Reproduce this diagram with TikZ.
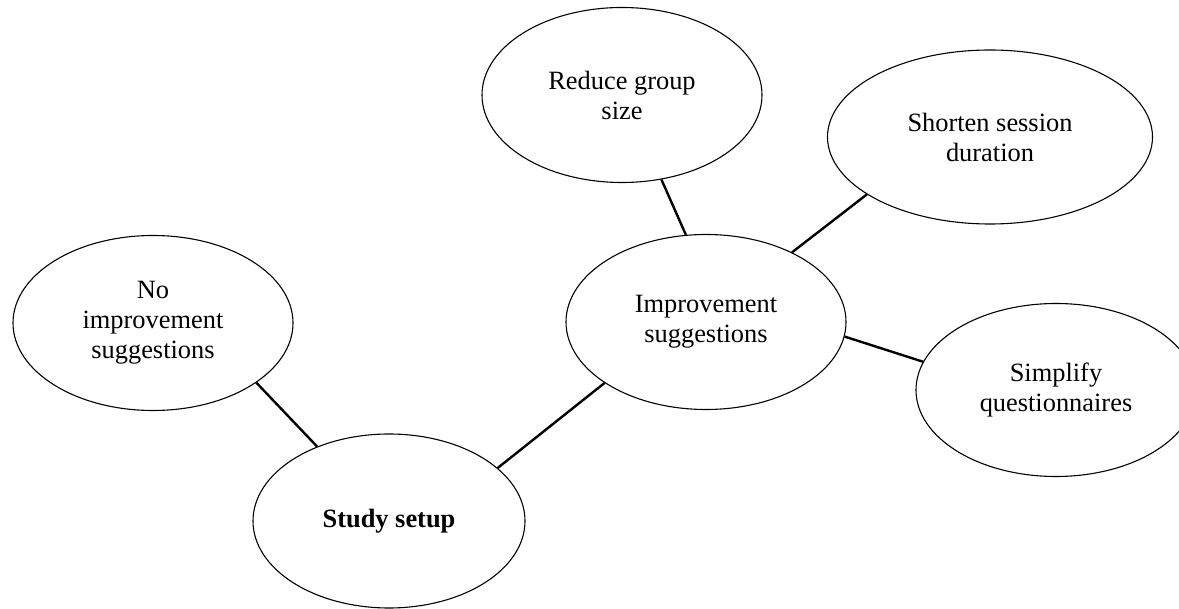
\documentclass[tikz,border=0pt]{standalone}
\usepackage{fontspec}
\setmainfont{Liberation Serif}
\usetikzlibrary{shapes.geometric}
\tikzset{
  bubble/.style={ellipse, draw=black, line width=1.1pt, inner sep=0pt,
    minimum width=280pt, minimum height=175pt, align=center,
    font=\fontsize{26.4}{30}\selectfont},
  link/.style={draw=black, line width=2.4pt}
}
\begin{document}
\begin{tikzpicture}[x=1pt,y=-1pt]
  \useasboundingbox (0,0) rectangle (1179,609);
  \clip (0,0) rectangle (1179,609);
  \fill[white] (0,0) rectangle (1179,609);

  % topic bubbles
  \node[bubble] (nosug) at (153,323) {No\\improvement\\suggestions};
  \node[bubble, minimum width=272pt, minimum height=174pt] (study) at (389,521) {\bfseries Study setup};
  \node[bubble] (improve) at (706,322) {Improvement\\suggestions};
  \node[bubble] (reduce) at (622,95) {Reduce group\\size};
  \node[bubble, minimum width=325pt, minimum height=174pt] (shorten) at (990,137) {Shorten session\\duration};
  \node[bubble, minimum height=173pt] (simplify) at (1056,390) {Simplify\\questionnaires};

  % connectors between bubbles
  \draw[link] (nosug.-30) -- (study.134);
  \draw[link] (study.26) -- (improve.-149);
  \draw[link] (reduce.-65) -- (improve.103);
  \draw[link] (shorten.-155) -- (improve.39);
  \draw[link] (improve.-6) -- (simplify.168);
\end{tikzpicture}
\end{document}
